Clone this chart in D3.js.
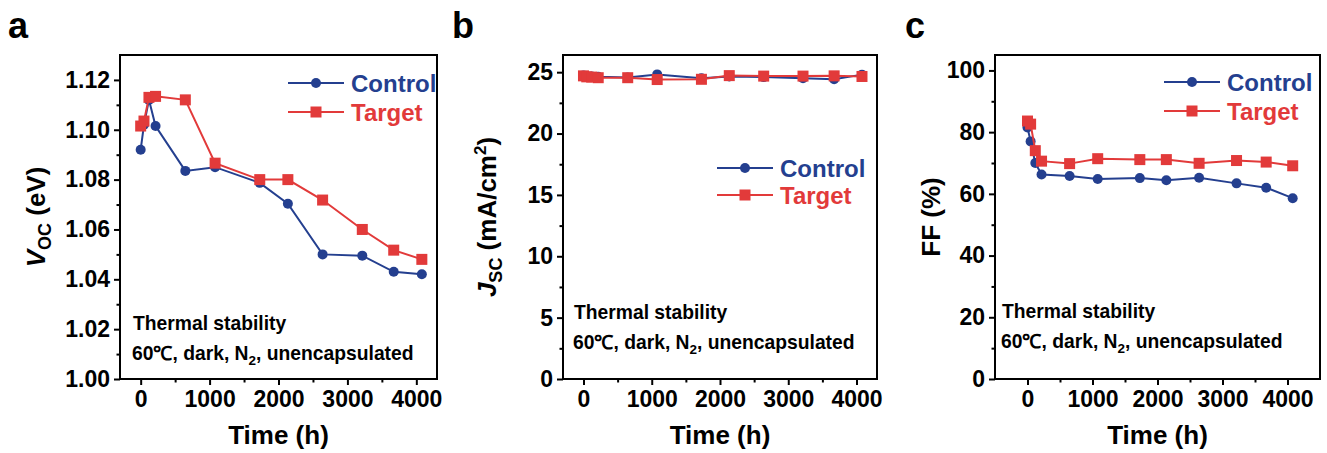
<!DOCTYPE html>
<html>
<head>
<meta charset="utf-8">
<script src="https://cdn.jsdelivr.net/npm/d3@7"></script>
<style>
  body { margin: 0; background: #fff; }
  svg { display: block; font-family: "Liberation Sans", Arial, sans-serif; font-weight: bold; }
</style>
</head>
<body>
<svg id="chart" width="1327" height="453"></svg>
<script>
// ---- data ----
const timeH = [0, 48, 120, 216, 648, 1080, 1728, 2136, 2640, 3216, 3672, 4080];
const seriesNames = ["Control", "Target"];
const vocControl = [1.092, 1.102, 1.112, 1.1015, 1.0835, 1.085, 1.0787, 1.0703, 1.050, 1.0495, 1.043, 1.042];
const vocTarget  = [1.1015, 1.1035, 1.113, 1.1134, 1.112, 1.0866, 1.080, 1.080, 1.0718, 1.060, 1.0517, 1.048];
const jscControl = [24.72, 24.68, 24.65, 24.62, 24.56, 24.82, 24.5, 24.65, 24.6, 24.5, 24.42, 24.8];
const jscTarget  = [24.7, 24.62, 24.6, 24.55, 24.55, 24.4, 24.42, 24.72, 24.68, 24.68, 24.7, 24.65];
const ffControl  = [81.5, 77.0, 70.0, 66.3, 65.8, 64.8, 65.1, 64.4, 65.2, 63.4, 62.0, 58.6];
const ffTarget   = [83.6, 82.6, 74.0, 70.6, 69.8, 71.4, 71.1, 71.1, 69.9, 70.8, 70.3, 69.1];
const xTicks = [0, 1000, 2000, 3000, 4000];
const xMinor = [500, 1500, 2500, 3500];
const vocTicks = [1.00, 1.02, 1.04, 1.06, 1.08, 1.10, 1.12];
const jscTicks = [0, 5, 10, 15, 20, 25];
const ffTicks = [0, 20, 40, 60, 80, 100];
const annot1 = "Thermal stability";

const colors = { Control: "#243f8f", Target: "#e23a3a" };
const svg = d3.select("#chart");

function panel(cfg) {
  const g = svg.append("g");
  const x = d3.scaleLinear().domain(cfg.xDomain).range([cfg.left, cfg.right]);
  const y = d3.scaleLinear().domain(cfg.yDomain).range([cfg.bottom, cfg.top]);

  // axes
  const xAxis = d3.axisBottom(x).tickValues(xTicks).tickSize(6).tickPadding(6).tickFormat(d3.format("d"));
  const yAxis = d3.axisLeft(y).tickValues(cfg.yTicks).tickSize(6).tickPadding(4).tickFormat(cfg.yFormat);
  const xa = g.append("g").attr("transform", `translate(0,${cfg.bottom})`).call(xAxis);
  const ya = g.append("g").attr("transform", `translate(${cfg.left},0)`).call(yAxis);
  // minor ticks
  g.append("g").attr("transform", `translate(0,${cfg.bottom})`)
    .call(d3.axisBottom(x).tickValues(xMinor.filter(v => v > cfg.xDomain[0] && v < cfg.xDomain[1])).tickSize(3.5).tickFormat(""));
  g.append("g").attr("transform", `translate(${cfg.left},0)`)
    .call(d3.axisLeft(y).tickValues(cfg.yMinor).tickSize(3.5).tickFormat(""));
  g.selectAll(".domain").remove();
  g.selectAll(".tick line").attr("stroke", "#000").attr("stroke-width", 2);
  [xa, ya].forEach(a => a.selectAll("text").attr("fill", "#000").attr("font-size", 23)
      .attr("font-family", '"Liberation Sans", Arial, sans-serif').attr("font-weight", "bold"));
  // frame
  g.append("rect").attr("x", cfg.left).attr("y", cfg.top)
    .attr("width", cfg.right - cfg.left).attr("height", cfg.bottom - cfg.top)
    .attr("fill", "none").attr("stroke", "#000").attr("stroke-width", 2);

  // series
  const line = d3.line().x(d => x(d[0])).y(d => y(d[1]));
  cfg.series.forEach((vals, i) => {
    const name = seriesNames[i];
    const pts = timeH.map((t, k) => [t, vals[k]]);
    g.append("path").datum(pts).attr("d", line).attr("fill", "none")
      .attr("stroke", colors[name]).attr("stroke-width", 2);
    if (name === "Control") {
      g.selectAll(null).data(pts).enter().append("circle")
        .attr("cx", d => x(d[0])).attr("cy", d => y(d[1])).attr("r", 5).attr("fill", colors[name]);
    } else {
      g.selectAll(null).data(pts).enter().append("rect")
        .attr("x", d => x(d[0]) - 5.5).attr("y", d => y(d[1]) - 5.5)
        .attr("width", 11).attr("height", 11).attr("fill", colors[name]);
    }
  });

  // legend
  seriesNames.forEach((name, i) => {
    const ly = cfg.legY + i * cfg.legGap;
    g.append("line").attr("x1", cfg.legX).attr("x2", cfg.legX + 56).attr("y1", ly).attr("y2", ly)
      .attr("stroke", colors[name]).attr("stroke-width", 2);
    if (name === "Control") {
      g.append("circle").attr("cx", cfg.legX + 28).attr("cy", ly).attr("r", 5).attr("fill", colors[name]);
    } else {
      g.append("rect").attr("x", cfg.legX + 22.5).attr("y", ly - 5.5).attr("width", 11).attr("height", 11).attr("fill", colors[name]);
    }
    g.append("text").attr("x", cfg.legX + 63).attr("y", ly + 8.5).attr("font-size", 24)
      .attr("fill", colors[name]).text(name);
  });

  // annotation
  g.append("text").attr("x", cfg.annX).attr("y", cfg.annY).attr("font-size", 19.3).attr("fill", "#000").text(annot1);
  const t2 = g.append("text").attr("x", cfg.annX - 1).attr("y", cfg.annY + 30).attr("font-size", 19.3).attr("fill", "#000");
  t2.append("tspan").text("60℃, dark, N");
  t2.append("tspan").attr("font-size", 13.5).attr("dy", 5).text("2");
  t2.append("tspan").attr("dy", -5).text(", unencapsulated");

  // x title
  g.append("text").attr("x", x(2000)).attr("y", 444).attr("text-anchor", "middle")
    .attr("font-size", 26).attr("fill", "#000").text("Time (h)");

  // y title
  const yt = g.append("text").attr("transform", `translate(${cfg.yTitleX},${(cfg.top + cfg.bottom) / 2}) rotate(-90)`)
    .attr("text-anchor", "middle").attr("font-size", 26).attr("fill", "#000");
  cfg.yTitle(yt);

  // panel letter
  svg.append("text").attr("x", cfg.letterX).attr("y", 38).attr("font-size", 36).attr("fill", "#000").text(cfg.letter);
}

panel({
  letter: "a", letterX: 8,
  left: 120, right: 437, top: 55, bottom: 379,
  xDomain: [-300, 4300], yDomain: [1.00, 1.13],
  yTicks: vocTicks, yMinor: [1.01, 1.03, 1.05, 1.07, 1.09, 1.11], yFormat: d3.format(".2f"),
  series: [vocControl, vocTarget],
  legX: 288, legY: 83, legGap: 29,
  annX: 133, annY: 330,
  yTitleX: 45,
  yTitle: t => {
    t.append("tspan").attr("font-style", "italic").text("V");
    t.append("tspan").attr("font-size", 18).attr("dy", 6).text("OC");
    t.append("tspan").attr("dy", -6).text(" (eV)");
  }
});

panel({
  letter: "b", letterX: 452,
  left: 563, right: 877, top: 55, bottom: 379,
  xDomain: [-300, 4300], yDomain: [0, 26.4],
  yTicks: jscTicks, yMinor: [2.5, 7.5, 12.5, 17.5, 22.5], yFormat: d3.format("d"),
  series: [jscControl, jscTarget],
  legX: 717, legY: 168, legGap: 27,
  annX: 574, annY: 319,
  yTitleX: 496,
  yTitle: t => {
    t.append("tspan").attr("font-style", "italic").text("J");
    t.append("tspan").attr("font-size", 18).attr("dy", 6).text("SC");
    t.append("tspan").attr("dy", -6).text(" (mA/cm");
    t.append("tspan").attr("font-size", 17).attr("dy", -10).text("2");
    t.append("tspan").attr("dy", 10).text(")");
  }
});

panel({
  letter: "c", letterX: 905,
  left: 995, right: 1320, top: 55, bottom: 379,
  xDomain: [-500, 4500], yDomain: [0, 105],
  yTicks: ffTicks, yMinor: [10, 30, 50, 70, 90], yFormat: d3.format("d"),
  series: [ffControl, ffTarget],
  legX: 1164, legY: 82, legGap: 29,
  annX: 1002, annY: 318,
  yTitleX: 940,
  yTitle: t => { t.text("FF (%)"); }
});
</script>
</body>
</html>
